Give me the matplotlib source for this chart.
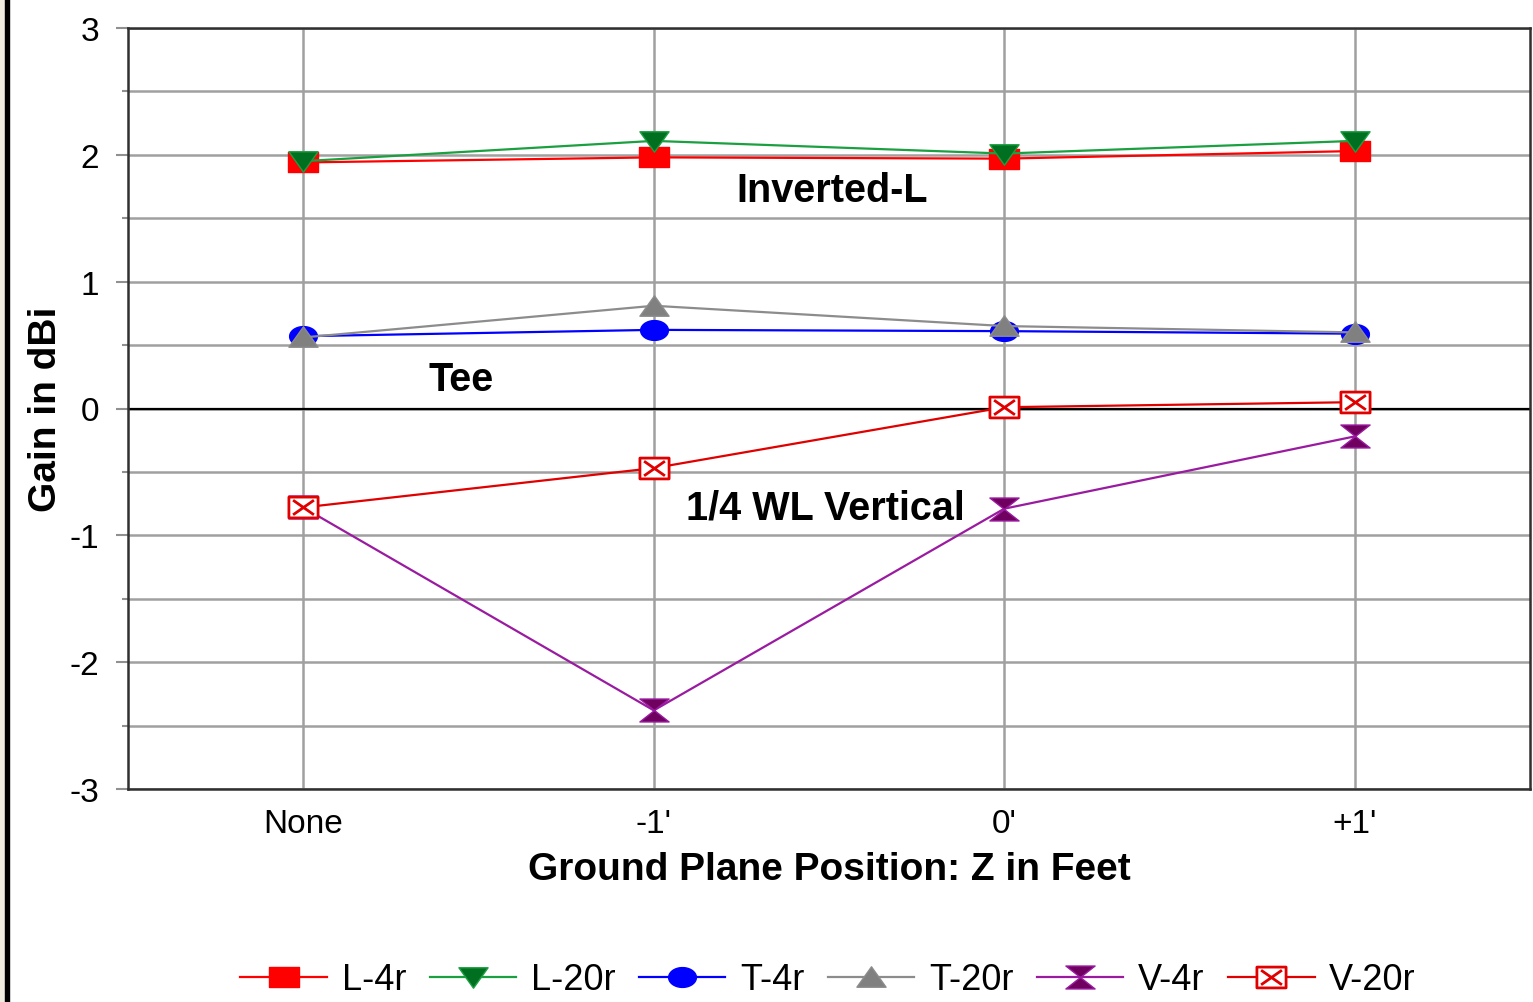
"""
Gain vs ground plane position for inverted-L, tee and 1/4 WL vertical
"""

import matplotlib
matplotlib.use("Agg")
import matplotlib.pyplot as plt
from matplotlib.path import Path
from matplotlib.patches import Rectangle
import numpy as np

positions = ["None", "-1'", "0'", "+1'"]

l_4r = [1.94, 1.98, 1.97, 2.03]
l_20r = [1.95, 2.11, 2.01, 2.11]
t_4r = [0.57, 0.62, 0.61, 0.59]
t_20r = [0.56, 0.81, 0.65, 0.60]
v_4r = [-0.78, -2.38, -0.79, -0.22]
v_20r = [-0.78, -0.47, 0.01, 0.05]

series_names = ["L-4r", "L-20r", "T-4r", "T-20r", "V-4r", "V-20r"]

# custom (stretched) marker shapes
rect_m = Path([(-1.4, -1), (1.4, -1), (1.4, 1), (-1.4, 1), (-1.4, -1)],
              [Path.MOVETO, Path.LINETO, Path.LINETO, Path.LINETO, Path.CLOSEPOLY])
tri_down = Path([(-1.5, 1), (1.5, 1), (0, -1.1), (-1.5, 1)],
                [Path.MOVETO, Path.LINETO, Path.LINETO, Path.CLOSEPOLY])
tri_up = Path([(-1.5, -1), (1.5, -1), (0, 1.1), (-1.5, -1)],
              [Path.MOVETO, Path.LINETO, Path.LINETO, Path.CLOSEPOLY])
t = np.linspace(0, 2 * np.pi, 40)
ellipse = Path(np.column_stack([1.4 * np.cos(t), np.sin(t)]))
hourglass = Path([(-1.4, 1.1), (1.4, 1.1), (0, 0), (1.4, -1.1), (-1.4, -1.1), (0, 0), (-1.4, 1.1)],
                 [Path.MOVETO, Path.LINETO, Path.LINETO, Path.LINETO, Path.LINETO,
                  Path.LINETO, Path.CLOSEPOLY])
boxx = Path([(-1.4, -1), (1.4, -1), (1.4, 1), (-1.4, 1), (-1.4, -1),
             (-1.0, -0.7), (1.0, 0.7), (-1.0, 0.7), (1.0, -0.7)],
            [Path.MOVETO, Path.LINETO, Path.LINETO, Path.LINETO, Path.CLOSEPOLY,
             Path.MOVETO, Path.LINETO, Path.MOVETO, Path.LINETO])

styles = [
    dict(color="#ff0000", marker=rect_m, mfc="#ff0000", mec="#ff0000", ms=21),
    dict(color="#1aa040", marker=tri_down, mfc="#007020", mec="#1aa040", ms=21),
    dict(color="#0000ff", marker=ellipse, mfc="#0000ff", mec="#0000ff", ms=20),
    dict(color="#8c8c8c", marker=tri_up, mfc="#808080", mec="#8c8c8c", ms=21),
    dict(color="#9a1aa0", marker=hourglass, mfc="#700060", mec="#9a1aa0", ms=21),
    dict(color="#e00000", marker=boxx, mfc="white", mec="#e00000", ms=21, mew=2),
]

sans = ["Liberation Sans", "DejaVu Sans"]

if __name__ == "__main__":
    fig = plt.figure(figsize=(15.33, 10.03), dpi=100)
    ax = fig.add_axes([128 / 1533, 1 - 790 / 1003, (1530 - 128) / 1533, (790 - 29) / 1003])

    x = np.arange(len(positions))
    data = [l_4r, l_20r, t_4r, t_20r, v_4r, v_20r]
    for name, vals, st in zip(series_names, data, styles):
        st = dict(st)
        st.setdefault("mew", 1)
        ax.plot(x, vals, lw=1.6, label=name, zorder=3, **st)

    ax.set_xlim(-0.5, 3.5)
    ax.set_ylim(-3, 3)
    ax.set_xticks(x)
    ax.set_xticklabels(positions, family=sans, fontsize=24)
    ax.set_yticks(range(-3, 4))
    ax.set_yticklabels([str(v) for v in range(-3, 4)], family=sans, fontsize=24)
    ax.set_yticks(np.arange(-2.5, 3, 1.0), minor=True)
    ax.tick_params(axis="y", which="major", length=9, width=1.5, color="#909090", pad=12)
    ax.tick_params(axis="y", which="minor", length=4, width=1.5, color="#909090")
    ax.tick_params(axis="x", length=0, pad=14)

    ax.grid(True, which="both", color="#a0a0a0", lw=1.8, zorder=1)
    ax.axhline(0, color="black", lw=1.6, zorder=2)
    for sp in ax.spines.values():
        sp.set_color("#303030")
        sp.set_linewidth(1.8)

    ax.set_ylabel("Gain in dBi", family=sans, fontsize=28, fontweight="bold", labelpad=4)
    ax.set_xlabel("Ground Plane Position: Z in Feet", family=sans, fontsize=28,
                  fontweight="bold", labelpad=8)

    ax.text(1.51, 1.72, "Inverted-L", family=sans, fontsize=28.5, fontweight="bold",
            ha="center", va="center")
    ax.text(0.45, 0.23, "Tee", family=sans, fontsize=28.5, fontweight="bold",
            ha="center", va="center")
    ax.text(1.49, -0.78, "1/4 WL Vertical", family=sans, fontsize=28.5, fontweight="bold",
            ha="center", va="center")

    leg = fig.legend(loc="center", bbox_to_anchor=(828 / 1533, 1 - 981 / 1003), ncol=6,
                     frameon=False, prop={"family": sans, "size": 26},
                     handlelength=2.4, handletextpad=0.4, columnspacing=0.65)

    # black frame strip on the left edge
    fig.patches.append(Rectangle((0, 0), 5 / 1533, 1, transform=fig.transFigure,
                                 color="#f0ece0", zorder=0))
    fig.patches.append(Rectangle((5 / 1533, 0), 4 / 1533, 1, transform=fig.transFigure,
                                 color="black", zorder=0))

    fig.savefig("out.png", dpi=100)
